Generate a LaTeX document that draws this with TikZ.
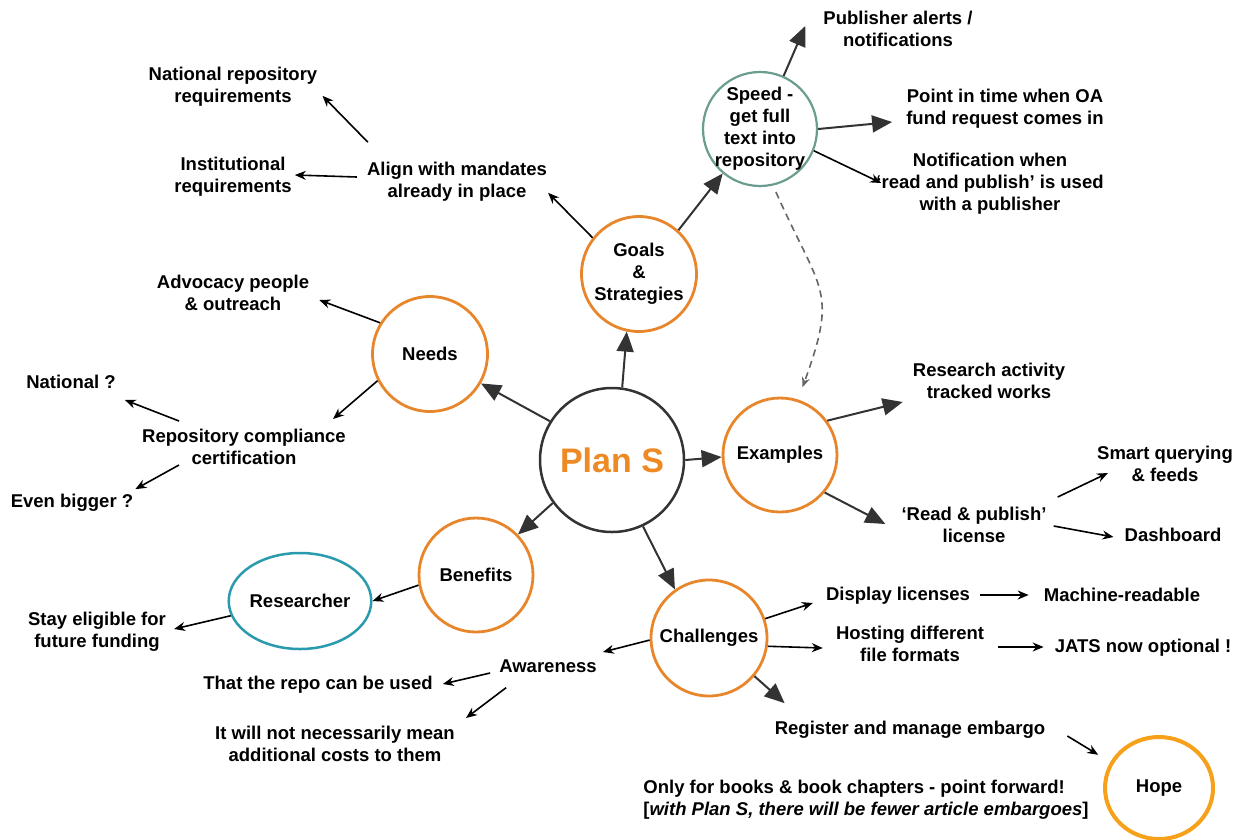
\documentclass[tikz,border=0pt]{standalone}
\usepackage{fontspec}
\setmainfont{Liberation Sans}
\usetikzlibrary{arrows.meta,shapes.geometric}
\definecolor{orC}{HTML}{E8862B}
\definecolor{planC}{HTML}{EE8A23}
\definecolor{darkC}{HTML}{333333}
\definecolor{speedC}{HTML}{6A9C90}
\definecolor{resC}{HTML}{2A9BAE}
\definecolor{hopeC}{HTML}{F7A11A}
\definecolor{dashC}{HTML}{666666}
\begin{document}
\begin{tikzpicture}[x=1pt,y=1pt,
  lbl/.style={font=\bfseries\fontsize{18.5}{22}\selectfont, align=center, inner sep=0pt},
  circ/.style={circle, draw=orC, line width=2.8pt, inner sep=0pt, align=center,
    font=\bfseries\fontsize{18.5}{22}\selectfont},
  bigarr/.style={draw=darkC, line width=2pt, -{Triangle[length=20pt,width=17pt]}},
  sarr/.style={draw=black, line width=1.6pt, -{Stealth[length=11pt,width=9pt]}},
  dasharr/.style={draw=dashC, line width=1.6pt, dash pattern=on 7pt off 5pt,
    -{Stealth[length=10pt,width=8pt]}}]
\fill[white] (0,0) rectangle (1238,-839);
\useasboundingbox (0,0) rectangle (1238,-839);

% circles
\node[circ, minimum size=144pt, draw=darkC, line width=2.5pt,
  font=\bfseries\fontsize{34}{36}\selectfont, text=planC] (plans) at (612,-460) {Plan S};
\node[circ, minimum size=115pt] (goals) at (639,-274) {Goals\\\&\\Strategies};
\node[circ, minimum size=114pt, draw=speedC, line width=2.2pt, inner sep=-15pt] (speed) at (760,-129) {Speed -\\get full\\text into\\repository};
\node[circ, minimum size=115pt] (needs) at (430,-354) {Needs};
\node[circ, minimum size=114pt] (examples) at (780,-455) {Examples};
\node[circ, minimum size=114pt] (benefits) at (476,-575) {Benefits};
\node[circ, minimum size=116pt] (challenges) at (709,-638) {Challenges};
\node[ellipse, draw=resC, line width=2.5pt, minimum width=137pt, minimum height=96pt,
  inner sep=0pt, font=\bfseries\fontsize{18.5}{22}\selectfont] (researcher) at (300,-601) {Researcher};
\node[ellipse, draw=hopeC, line width=4pt, minimum width=108pt, minimum height=102pt,
  inner sep=0pt, font=\bfseries\fontsize{18.5}{22}\selectfont] (hope) at (1159,-788) {Hope};

% labels
\node[lbl] (pubalert) at (898,-29) {Publisher alerts /\\notifications};
\node[lbl] (pointtime) at (1005,-109) {Point in time when OA\\fund request comes in};
\node[lbl] (notif) at (990,-184) {Notification when\\‘read and publish’ is used\\with a publisher};
\node[lbl] (natrep) at (233,-87) {National repository\\requirements};
\node[lbl] (inst) at (233,-177) {Institutional\\requirements};
\node[lbl] (align) at (457,-182) {Align with mandates\\already in place};
\node[lbl] (advocacy) at (233,-293) {Advocacy people\\\& outreach};
\node[lbl] (national) at (71,-382) {National ?};
\node[lbl] (repcomp) at (244,-447) {Repository compliance\\certification};
\node[lbl] (evenbig) at (72,-503) {Even bigger ?};
\node[lbl] (research) at (989,-381) {Research activity\\tracked works};
\node[lbl] (smart) at (1165,-464) {Smart querying\\\& feeds};
\node[lbl] (readpub) at (974,-525) {‘Read \& publish’\\license};
\node[lbl] (dashboard) at (1173,-535) {Dashboard};
\node[lbl] (display) at (898,-596) {Display licenses};
\node[lbl] (machine) at (1122,-595) {Machine-readable};
\node[lbl] (hosting) at (910,-644) {Hosting different\\file formats};
\node[lbl] (jats) at (1143,-648) {JATS now optional !};
\node[lbl] (awareness) at (548,-666) {Awareness};
\node[lbl] (thatrepo) at (318,-685) {That the repo can be used};
\node[lbl] (itwill) at (335,-744) {It will not necessarily mean\\additional costs to them};
\node[lbl] (stay) at (97,-632) {Stay eligible for\\future funding};
\node[lbl] (register) at (910,-730) {Register and manage embargo};
\node[lbl, align=left] (onlyfor) at (866,-800) {Only for books \& book chapters - point forward!\\{}[\textit{with Plan S, there will be fewer article embargoes}]};

% big arrows
\draw[bigarr] (plans.82) -- (goals.258);
\draw[bigarr] (plans.148) -- (needs.330);
\draw[bigarr] (plans.0) -- (examples.182);
\draw[bigarr] (plans.216) -- (benefits.44);
\draw[bigarr] (plans.295) -- (challenges.125);
\draw[bigarr] (goals.48) -- (speed.230);
\draw[bigarr] (speed.66) -- ([xshift=-18pt,yshift=3pt]pubalert.west);
\draw[bigarr] (speed.0) -- ([xshift=-14pt,yshift=-13pt]pointtime.west);
\draw[bigarr] (examples.36) -- ([xshift=-10pt,yshift=-3pt]research.south west);
\draw[bigarr] (examples.320) -- ([xshift=-16pt,yshift=1pt]readpub.west);
\draw[bigarr] (challenges.320) -- ([xshift=10pt,yshift=18pt]register.north west);

% small arrows
\draw[sarr] (speed.338) -- ([xshift=5pt,yshift=1pt]notif.west);
\draw[sarr] (goals.142) -- ([xshift=1pt,yshift=9pt]align.south east);
\draw[sarr] ([xshift=1pt,yshift=20pt]align.north west) -- ([xshift=5pt,yshift=11pt]natrep.south east);
\draw[sarr] ([xshift=-10pt,yshift=5pt]align.west) -- ([xshift=3pt,yshift=2pt]inst.east);
\draw[sarr] (needs.148) -- ([xshift=10pt,yshift=-7pt]advocacy.east);
\draw[sarr] (needs.207) -- ([xshift=-13pt,yshift=10pt]repcomp.north east);
\draw[sarr] ([xshift=37pt,yshift=8pt]repcomp.north west) -- ([xshift=9pt,yshift=-11pt]national.south east);
\draw[sarr] ([xshift=37pt]repcomp.south west) -- ([xshift=2pt,yshift=5pt]evenbig.north east);
\draw[sarr] (benefits.190) -- (researcher.east);
\draw[sarr] (researcher.192) -- ([xshift=8pt,yshift=3pt]stay.east);
\draw[sarr] (challenges.182) -- ([xshift=6pt,yshift=14pt]awareness.east);
\draw[sarr] ([xshift=-9pt,yshift=-7pt]awareness.west) -- ([xshift=10pt,yshift=1pt]thatrepo.east);
\draw[sarr] ([xshift=7pt,yshift=-15pt]awareness.south west) -- ([xshift=11pt,yshift=8pt]itwill.north east);
\draw[sarr] (challenges.19) -- ([xshift=-13pt,yshift=-7pt]display.west);
\draw[sarr] (challenges.352) -- ([xshift=-13pt,yshift=-4pt]hosting.west);
\draw[sarr] ([xshift=10pt,yshift=1pt]display.east) -- ([xshift=-15pt]machine.west);
\draw[sarr] ([xshift=14pt,yshift=-3pt]hosting.east) -- ([xshift=-11pt,yshift=1pt]jats.west);
\draw[sarr] ([xshift=11pt,yshift=10pt]readpub.north east) -- ([xshift=11pt,yshift=9pt]smart.south west);
\draw[sarr] ([xshift=7pt,yshift=-1pt]readpub.east) -- ([xshift=-11pt,yshift=-2pt]dashboard.west);
\draw[sarr, shorten >=14pt] ([xshift=22pt,yshift=-6pt]register.east) -- (hope.152);

% dashed curve
\draw[dasharr, shorten <=7pt, shorten >=13pt] (speed.283) to[out=-66,in=70,looseness=1.4] (examples.72);
\end{tikzpicture}
\end{document}
